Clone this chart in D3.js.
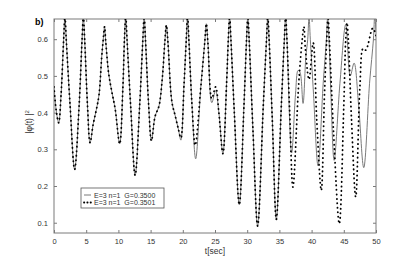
<!DOCTYPE html>
<html><head><meta charset="utf-8">
<script src="https://cdn.jsdelivr.net/npm/d3@7"></script>
<style>
html,body{margin:0;padding:0;background:#fff;}
svg{display:block;font-family:"Liberation Sans",Arial,sans-serif;}
</style></head>
<body><svg id="c" width="415" height="262"></svg>
<script>
// ---- data ----
const xTicks = [0,5,10,15,20,25,30,35,40,45,50];
const yTicks = [0.1,0.2,0.3,0.4,0.5,0.6];
const legendLabels = ["E=3 n=1  G=0.3500","E=3 n=1  G=0.3501"];

// series A : G=0.3500 (solid grey)
const tA = [0,0.35,0.73,1.1,1.5,1.7,1.9,2.5,3.2,3.9,4.36,4.56,4.76,5.2,5.6,6.1,6.6,7.0,7.4,7.65,7.85,8.05,8.5,9.0,9.5,10.2,10.7,10.94,11.14,11.34,11.9,12.6,13.3,13.8,14.0,14.2,14.7,15.13,15.7,16.3,16.8,17.2,17.45,17.7,18.3,18.8,19.3,19.7,20.2,20.54,20.74,20.94,21.4,22.0,22.8,23.4,23.65,23.9,24.5,25.1,25.6,26.23,26.8,27.07,27.27,27.47,28.0,28.77,29.5,29.9,30.1,30.3,30.9,31.62,32.5,33.0,33.2,33.4,33.9,34.52,35.3,35.77,35.97,36.17,36.9,37.5,37.9,38.2,38.67,39.1,39.4,39.6,39.8,40.3,41.0,41.8,42.3,42.5,42.7,43.0,43.5,44.4,45.3,46.0,46.6,47.3,48.1,49.0,49.6,49.8,50];
const vA = [0.47,0.405,0.372,0.45,0.6,0.662,0.6,0.42,0.245,0.42,0.6,0.662,0.6,0.42,0.318,0.37,0.41,0.45,0.55,0.6,0.634,0.59,0.505,0.455,0.41,0.315,0.47,0.6,0.662,0.6,0.42,0.229,0.42,0.6,0.662,0.6,0.42,0.323,0.39,0.418,0.49,0.59,0.638,0.59,0.43,0.393,0.356,0.325,0.48,0.6,0.662,0.6,0.43,0.274,0.47,0.59,0.642,0.59,0.427,0.46,0.4,0.288,0.48,0.6,0.662,0.6,0.4,0.149,0.42,0.6,0.662,0.6,0.35,0.091,0.42,0.6,0.662,0.6,0.38,0.109,0.42,0.6,0.662,0.6,0.29,0.45,0.515,0.51,0.425,0.55,0.6,0.662,0.6,0.45,0.255,0.48,0.6,0.662,0.6,0.45,0.27,0.48,0.64,0.5,0.535,0.42,0.25,0.48,0.6,0.662,0.62];

// series B : G=0.3501 (dotted black)
const tB = [0,0.35,0.73,1.1,1.5,1.7,1.9,2.5,3.2,3.9,4.36,4.56,4.76,5.2,5.6,6.1,6.6,7.0,7.4,7.65,7.85,8.05,8.5,9.0,9.5,10.2,10.7,10.94,11.14,11.34,11.9,12.6,13.3,13.8,14.0,14.2,14.7,15.13,15.7,16.3,16.8,17.2,17.45,17.7,18.3,18.8,19.3,19.7,20.2,20.54,20.74,20.94,21.4,21.93,22.8,23.4,23.65,23.9,24.5,25.1,25.6,26.23,26.8,27.07,27.27,27.47,28.0,28.77,29.5,29.9,30.1,30.3,30.9,31.62,32.5,33.0,33.2,33.4,33.9,34.52,35.3,35.77,35.97,36.17,36.6,37.1,38.0,38.55,38.8,39.05,39.6,40.25,40.8,41.5,42.0,42.35,42.55,42.75,43.4,44.3,45.0,45.3,45.5,45.7,46.2,46.85,47.5,48.0,48.4,49.5,50];
const vB = [0.47,0.405,0.372,0.45,0.6,0.662,0.6,0.42,0.245,0.42,0.6,0.662,0.6,0.42,0.318,0.37,0.41,0.45,0.55,0.6,0.634,0.59,0.505,0.455,0.41,0.315,0.47,0.6,0.662,0.6,0.42,0.229,0.42,0.6,0.662,0.6,0.42,0.323,0.39,0.418,0.49,0.59,0.638,0.59,0.43,0.393,0.356,0.331,0.48,0.6,0.662,0.6,0.43,0.311,0.47,0.59,0.642,0.59,0.438,0.47,0.4,0.288,0.48,0.6,0.662,0.6,0.4,0.149,0.42,0.6,0.662,0.6,0.35,0.091,0.42,0.6,0.662,0.6,0.38,0.109,0.42,0.6,0.662,0.6,0.4,0.197,0.48,0.6,0.634,0.57,0.49,0.59,0.38,0.188,0.45,0.6,0.662,0.6,0.35,0.097,0.42,0.6,0.645,0.6,0.38,0.17,0.47,0.575,0.57,0.63,0.61];

// ---- layout ----
const L=54, R=376, T=19, B=233;
const svg = d3.select("#c");
const x = d3.scaleLinear().domain([0,50]).range([L,R]);
const y = d3.scaleLinear().domain([0.072,0.655]).range([B,T]);
const axisCol = "#7a7a7a", textCol = "#333";

svg.append("defs").append("clipPath").attr("id","clip")
  .append("rect").attr("x",L).attr("y",T).attr("width",R-L).attr("height",B-T);

svg.append("rect").attr("x",L).attr("y",T).attr("width",R-L).attr("height",B-T)
  .attr("fill","none").attr("stroke",axisCol).attr("stroke-width",1);

const tl=3;
function styleAxis(g){ g.select(".domain").remove(); g.selectAll("line").attr("stroke",axisCol); g.selectAll("text").attr("fill",textCol).attr("font-size","7.5px").attr("font-family","Liberation Sans, Arial, sans-serif"); }
svg.append("g").attr("transform",`translate(0,${B})`)
  .call(d3.axisBottom(x).tickValues(xTicks).tickSizeInner(-tl).tickSizeOuter(0).tickPadding(6).tickFormat(d3.format("d")))
  .call(styleAxis);
svg.append("g").attr("transform",`translate(0,${T})`)
  .call(d3.axisTop(x).tickValues(xTicks).tickSizeInner(-tl).tickSizeOuter(0).tickFormat(""))
  .call(styleAxis);
svg.append("g").attr("transform",`translate(${L},0)`)
  .call(d3.axisLeft(y).tickValues(yTicks).tickSizeInner(-tl).tickSizeOuter(0).tickPadding(6).tickFormat(d3.format(".1f")))
  .call(styleAxis);
svg.append("g").attr("transform",`translate(${R},0)`)
  .call(d3.axisRight(y).tickValues(yTicks).tickSizeInner(-tl).tickSizeOuter(0).tickFormat(""))
  .call(styleAxis);

const line = d3.line().x(d=>x(d[0])).y(d=>y(d[1])).curve(d3.curveCatmullRom.alpha(0.5));
const dataA = tA.map((t,i)=>[t,vA[i]]);
const dataB = tB.map((t,i)=>[t,vB[i]]);
const plot = svg.append("g").attr("clip-path","url(#clip)");
plot.append("path").attr("d",line(dataA)).attr("fill","none").attr("stroke","#7a7a7a").attr("stroke-width",1);
plot.append("path").attr("d",line(dataB)).attr("fill","none").attr("stroke","#000")
  .attr("stroke-width",1.8).attr("stroke-linecap","round").attr("stroke-dasharray","0.3 4.2");

// legend
const lg = svg.append("g");
lg.append("rect").attr("x",81).attr("y",188).attr("width",83).attr("height",20)
  .attr("fill","#fff").attr("stroke","#555").attr("stroke-width",0.8);
lg.append("line").attr("x1",84).attr("x2",91).attr("y1",195).attr("y2",195).attr("stroke","#7a7a7a").attr("stroke-width",1);
lg.append("line").attr("x1",84).attr("x2",92).attr("y1",202.5).attr("y2",202.5).attr("stroke","#000")
  .attr("stroke-width",1.8).attr("stroke-linecap","round").attr("stroke-dasharray","0.3 3");
lg.selectAll("text.lt").data(legendLabels).enter().append("text").attr("class","lt")
  .attr("x",94).attr("y",(d,i)=>197.5+i*7.5).attr("font-size","7px").attr("fill",textCol)
  .attr("xml:space","preserve").text(d=>d);

svg.append("text").attr("x",(L+R)/2).attr("y",254).attr("text-anchor","middle")
  .attr("font-size","8.5px").attr("fill",textCol).text("t[sec]");
const yl = svg.append("text").attr("transform","translate(32,122) rotate(-90)").attr("text-anchor","middle")
  .attr("font-size","8.5px").attr("fill",textCol);
yl.append("tspan").text("|φ(t) |");
yl.append("tspan").attr("dy",-3).attr("font-size","6px").text("2");
svg.append("text").attr("x",35).attr("y",25).attr("font-size","9px").attr("font-weight","bold").attr("fill","#000").text("b)");
</script></body></html>
